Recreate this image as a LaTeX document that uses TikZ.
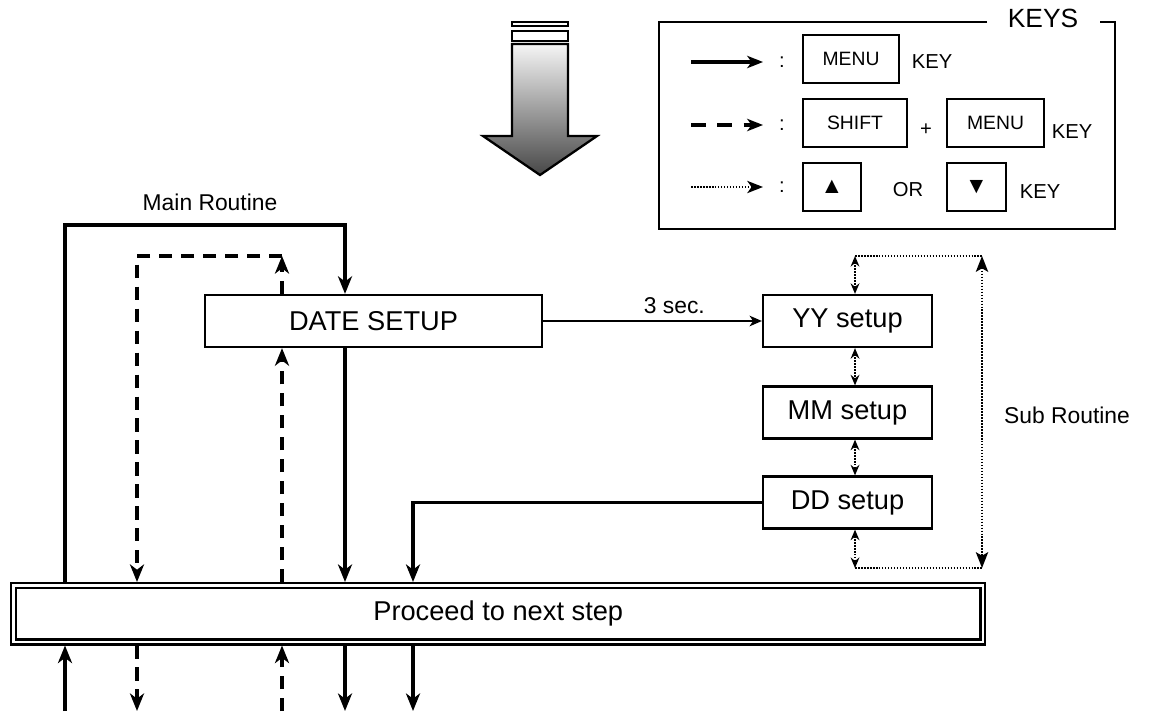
\documentclass[tikz,border=0pt]{standalone}
\usepackage{fontspec}
\setmainfont{Liberation Sans}
\usetikzlibrary{arrows.meta}

\begin{document}
\begin{tikzpicture}[%
      x=0.02cm, y=-0.02cm,
      box/.style={rectangle,draw,line width=1.3pt,align=center,minimum height=1.04cm,font=\fontsize{15.5}{18}\selectfont},
      keybox/.style={rectangle,draw,line width=1pt,minimum height=0.96cm,font=\fontsize{11}{13}\selectfont},
      lbl/.style={font=\fontsize{13}{15}\selectfont},
      keytxt/.style={font=\fontsize{11.5}{13}\selectfont},
      menukey/.style={line width=2.2pt,-{Stealth[length=10pt,width=8pt,inset=3pt]}},
      shiftkey/.style={menukey,dash pattern=on 7.5pt off 5pt},
      updown/.style={line width=1.1pt,dash pattern=on 0.9pt off 0.8pt,{Stealth[length=6pt,width=5pt,inset=2pt]}-{Stealth[length=6pt,width=5pt,inset=2pt]}},
      dotline/.style={line width=1.1pt,dash pattern=on 0.9pt off 0.8pt}
      ]
      \useasboundingbox (0,0) rectangle (1151,711);
      % big arrow
      \draw[line width=1.3pt,fill=white] (512,22) rectangle (568,26);
      \draw[line width=1.3pt,fill=white] (512,31) rectangle (568,41);
      \draw[line width=1.3pt,top color=black!4,bottom color=black!72] (512,44) -- (568,44) -- (568,136) -- (597,136) -- (540,175) -- (483,136) -- (512,136) -- cycle;
      % keys
      \draw (1043,18) node[font=\fontsize{15}{17}\selectfont] (K) {KEYS};
      \draw[line width=1.2pt] (987,22) -- (659,22) -- (659,229) -- (1115,229) -- (1115,22) -- (1100,22);
      \coordinate (a1) at (691,62);  \coordinate (b1) at (763,62);
      \coordinate (a2) at (691,125); \coordinate (b2) at (763,125);
      \coordinate (a3) at (691,187); \coordinate (b3) at (763,187);
      \draw[line width=1.8pt,-{Stealth[length=9pt,width=7pt,inset=2.5pt]}] (a1) -- (b1);
      \draw[line width=2pt,dash pattern=on 8.5pt off 6.5pt,-{Stealth[length=9pt,width=7pt,inset=2.5pt]}] (a2) -- (b2);
      \draw[dotline,-{Stealth[length=9pt,width=7pt,inset=2.5pt]}] (a3) -- (b3);
      \draw (782,62) node[keytxt] (c1) {:};
      \draw (782,125) node[keytxt] (c2) {:};
      \draw (782,187) node[keytxt] (c3) {:};
      \draw (851,59) node[keybox,minimum width=1.92cm] (M1) {MENU};
      \draw (932,62) node[keytxt] (k1) {KEY};
      \draw (855,123) node[keybox,minimum width=2.08cm] (S) {SHIFT};
      \draw (926,130) node[keytxt] (plus) {+};
      \draw (995.5,123) node[keybox,minimum width=1.94cm] (M2) {MENU};
      \draw (1072,132) node[keytxt] (k2) {KEY};
      \draw (832,187) node[keybox,minimum width=1.16cm,font=\fontsize{13}{15}\selectfont] (U) {▲};
      \draw (908,190) node[keytxt] (or) {OR};
      \draw (976.5,187) node[keybox,minimum width=1.18cm,font=\fontsize{13}{15}\selectfont] (D) {▼};
      \draw (1040,192) node[keytxt] (k3) {KEY};
      % main routine
      \draw (373.5,321) node[box,minimum width=6.74cm] (date) {DATE SETUP};
      \draw (847.5,321) node[box,minimum width=3.38cm] (yy) {YY setup};
      \draw (847.5,412.5) node[box,minimum width=3.38cm] (mm) {MM setup};
      \draw (847.5,502.5) node[box,minimum width=3.38cm] (dd) {DD setup};
      \draw (498.25,613.75) node[box,double,double distance=1.4pt,outer sep=2pt,minimum width=19.39cm,minimum height=1.13cm] (proc) {Proceed to next step};
      \draw (210,202) node[lbl] (mainr) {Main Routine};
      \draw (1067,415) node[lbl] (subr) {Sub Routine};
      \coordinate (m1) at (65,225);  \coordinate (m2) at (345,225);
      \coordinate (t1) at (137,256); \coordinate (t2) at (282,256);
      \coordinate (dc) at (413,503);
      \draw[menukey] (proc.north -| m1) -- (m1) -- (m2) -- (date.north -| m2);
      \draw[menukey] (date.south -| m2) -- (proc.north -| m2);
      \draw[shiftkey] (date.north -| t2) -- (t2);
      \draw[shiftkey] (t2) -- (t1) -- (proc.north -| t1);
      \draw[shiftkey] (proc.north -| t2) -- (date.south -| t2);
      \draw[menukey] (dd.west) -| (proc.north -| dc);
      \draw[line width=1.1pt,-{Stealth[length=7pt,width=6pt,inset=2pt]}] (date.east) -- node[lbl,above,pos=0.6] {3 sec.} (yy.west);
      % sub routine
      \coordinate (s1) at (855,256); \coordinate (s2) at (982,256);
      \coordinate (s3) at (982,568); \coordinate (s4) at (855,568);
      \draw[updown] (s1) -- (yy.north -| s1);
      \draw[updown] (yy.south -| s1) -- (mm.north -| s1);
      \draw[updown] (mm.south -| s1) -- (dd.north -| s1);
      \draw[updown] (dd.south -| s1) -- (s4);
      \draw[dotline] (s1) -- (s2);
      \draw[dotline] (s4) -- (s3);
      \draw[dotline,{Stealth[length=9pt,width=7pt,inset=2pt]}-{Stealth[length=9pt,width=7pt,inset=2pt]}] (s2) -- (s3);
      % below
      \coordinate (e1) at (65,711);  \coordinate (e2) at (137,711);
      \coordinate (e3) at (282,711); \coordinate (e4) at (345,711);
      \coordinate (e5) at (413,711);
      \draw[menukey] (e1) -- (proc.south -| e1);
      \draw[shiftkey] (proc.south -| e2) -- (e2);
      \draw[shiftkey] (e3) -- (proc.south -| e3);
      \draw[menukey] (proc.south -| e4) -- (e4);
      \draw[menukey] (proc.south -| e5) -- (e5);
    \end{tikzpicture}
\end{document}
